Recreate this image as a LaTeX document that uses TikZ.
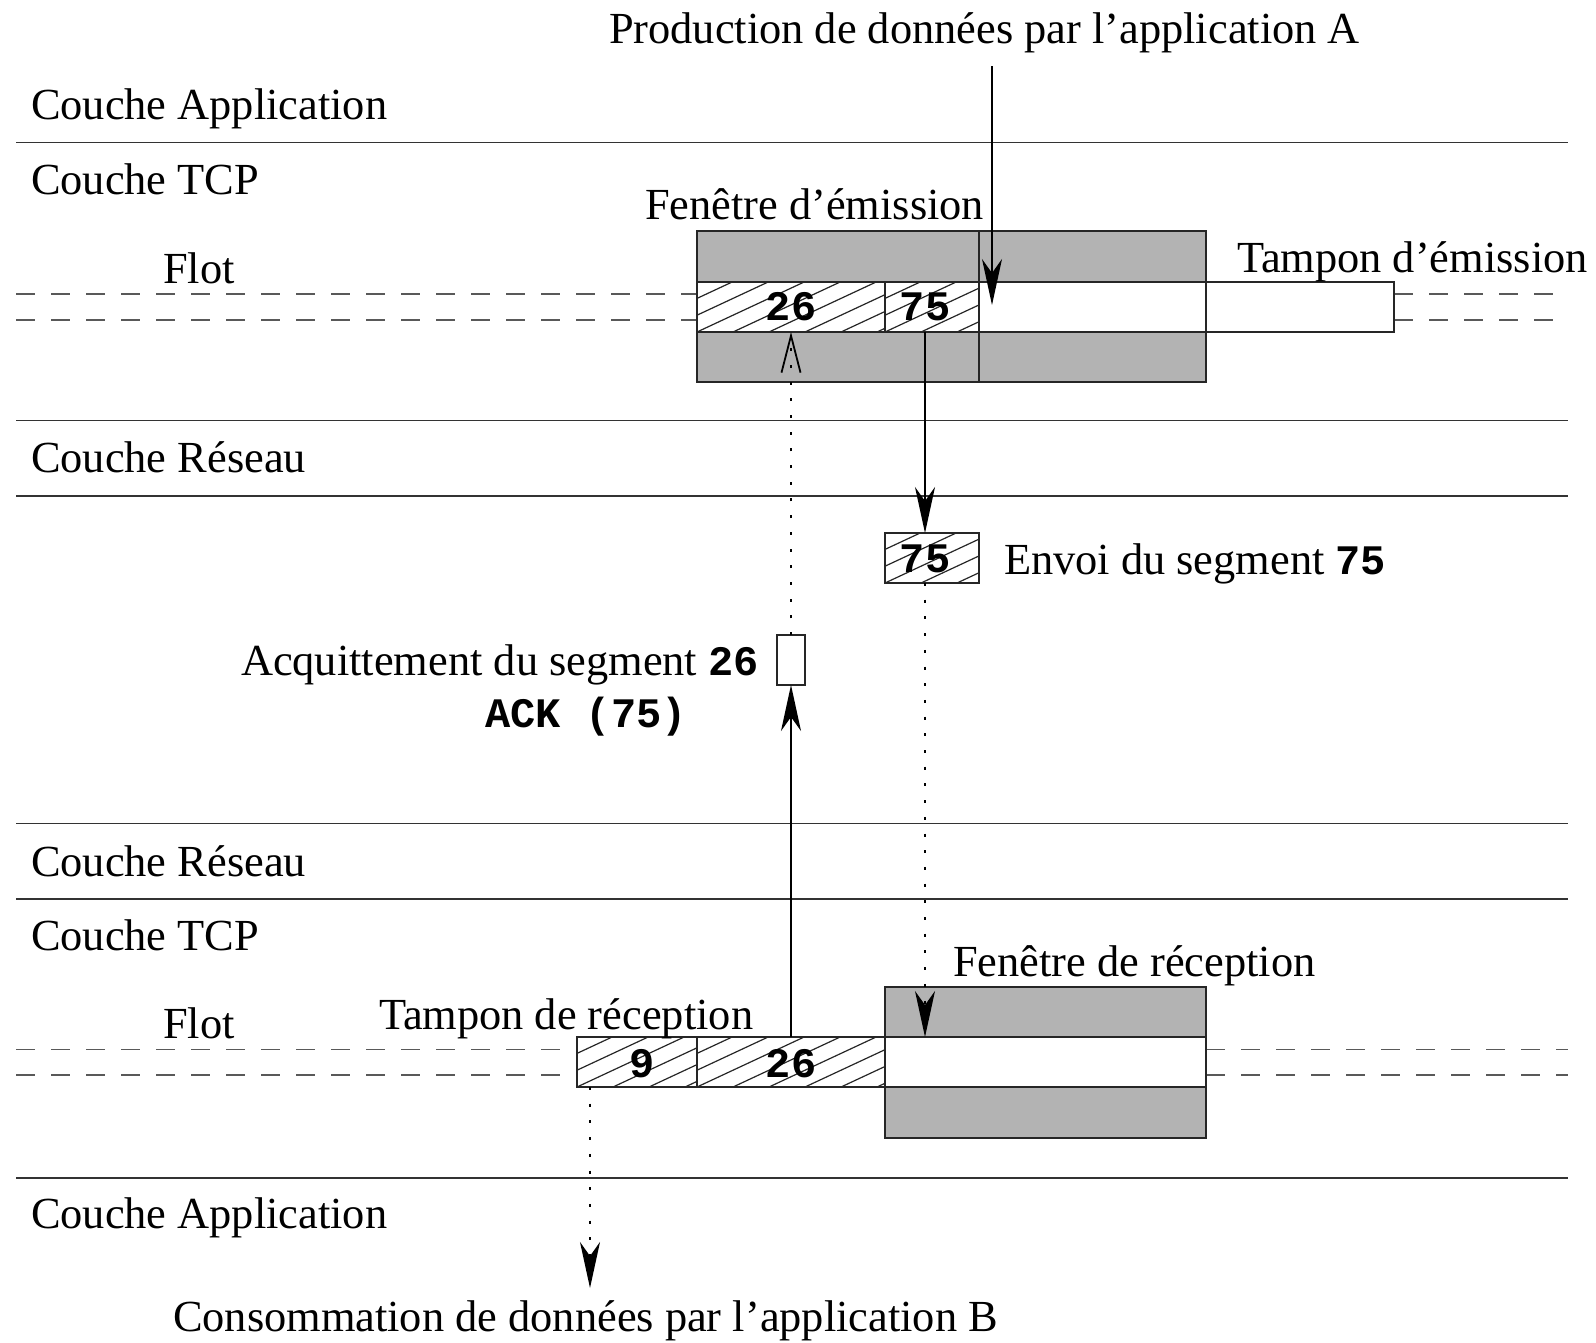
\documentclass[tikz,border=0pt]{standalone}
\usepackage{fontspec}
\setmainfont{Liberation Serif}
\newfontfamily\mymono{Liberation Mono}
\usetikzlibrary{arrows.meta}
\newcommand\txtsize{\fontsize{44.4pt}{50pt}\selectfont}
\newcommand\numsize{\fontsize{42pt}{50pt}\selectfont}
\definecolor{grayf}{HTML}{B3B3B3}
\tikzset{
  box/.style={draw=black!85, line width=1.8pt, rectangle, inner sep=0pt, outer sep=0pt, anchor=north west},
  hatch/.style={box, fill=white, path picture={
      \foreach \i in {-5,...,7} {
        \draw[line width=1.2pt, black!85] ([xshift=\i*36pt]path picture bounding box.south west) -- ++(120pt,56pt);
      }}},
  txt/.style={inner sep=0pt, outer sep=0pt, anchor=base west, font=\txtsize},
  num/.style={inner sep=0pt, outer sep=0pt, anchor=base, font=\numsize\mymono\bfseries},
  layer/.style={draw=black!80, line width=1.8pt},
  flow/.style={draw=black!65, line width=1.5pt, dash pattern=on 19pt off 16pt},
  dots/.style={line width=2pt, dash pattern=on 3pt off 13.7pt},
  arr/.style={-{Stealth[length=46pt,width=20pt,inset=14pt]}, line width=1.8pt},
  openarr/.style={-{Straight Barb[length=37pt,width=19pt,line width=1.8pt]}},
}
\begin{document}
\begin{tikzpicture}[x=1pt,y=-1pt]
\useasboundingbox[fill=white] (0,0) rectangle (1596,1342);

% layer lines
\draw[layer] (16,142.5) -- (1568,142.5);
\draw[layer] (16,420.4) -- (1568,420.4);
\draw[layer] (16,495.7) -- (1568,495.7);
\draw[layer] (16,823.5) -- (1568,823.5);
\draw[layer] (16,898.8) -- (1568,898.8);
\draw[layer] (16,1177.7) -- (1568,1177.7);

% flow dashed lines
\draw[flow] (16,294) -- (697,294);
\draw[flow] (16,320) -- (697,320);
\draw[flow] (1394,294) -- (1568,294);
\draw[flow] (1394,320) -- (1568,320);
\draw[flow] (16,1049.5) -- (577,1049.5);
\draw[flow] (16,1075) -- (577,1075);
\draw[flow] (1206,1049.5) -- (1568,1049.5);
\draw[flow] (1206,1075) -- (1568,1075);

% upper (sender) buffer
\node[box, fill=grayf, minimum width=509pt, minimum height=151pt] (gu) at (697,231) {};
\node[hatch, minimum width=188pt, minimum height=50pt] (c26u) at (697,282) {};
\node[hatch, minimum width=94pt, minimum height=50pt] (c75u) at (885,282) {};
\node[box, fill=white, minimum width=227pt, minimum height=50pt] (winu) at (979,282) {};
\node[box, fill=white, minimum width=188pt, minimum height=50pt] (tamp) at (1206,282) {};
\draw[draw=black!85, line width=1.8pt] (winu.west |- gu.north) -- (winu.west |- gu.south);

\node[num] (n26u) at (791,320) {26};
\node[num] (n75u) at (925,320) {75};

% segment in transit
\node[hatch, minimum width=94pt, minimum height=50pt] (s75) at (885,533) {};
\node[num] (ns75) at (925,572) {75};

% ack
\node[box, fill=white, minimum width=28pt, minimum height=50pt] (ack) at (777,635) {};

% lower (receiver) buffer
\node[box, fill=grayf, minimum width=321pt, minimum height=151pt] (gl) at (885,987) {};
\node[box, fill=white, minimum width=321pt, minimum height=50pt] (winl) at (885,1037) {};
\node[hatch, minimum width=120pt, minimum height=50pt] (c9) at (577,1037) {};
\node[hatch, minimum width=188pt, minimum height=50pt] (c26l) at (697,1037) {};
\node[num] (n9) at (642,1077) {9};
\node[num] (n26l) at (791,1077) {26};

% texts
\node[txt] (prod) at (609,43) {Production de données par l'application A};
\node[txt] (capp1) at (31,119.5) {Couche Application};
\node[txt] (ctcp1) at (31,194.5) {Couche TCP};
\node[txt] (fem) at (645,219.5) {Fenêtre d'émission};
\node[txt] (temi) at (1237,272.5) {Tampon d'émission};
\node[txt] (flot1) at (163,283) {Flot};
\node[txt] (cres1) at (31,472) {Couche Réseau};
\node[txt] (envoi) at (1004,574) {Envoi du segment {\numsize\mymono\bfseries 75}};
\node[txt] (acq) at (241,675) {Acquittement du segment {\numsize\mymono\bfseries 26}};
\node[txt, font=\numsize\mymono\bfseries] (ackl) at (485,727) {ACK (75)};
\node[txt] (cres2) at (31,876) {Couche Réseau};
\node[txt] (ctcp2) at (31,950.5) {Couche TCP};
\node[txt] (frec) at (953,976) {Fenêtre de réception};
\node[txt] (flot2) at (163,1038) {Flot};
\node[txt] (trec) at (379,1029) {Tampon de réception};
\node[txt] (capp2) at (31,1228.5) {Couche Application};
\node[txt] (cons) at (173,1331) {Consommation de données par l'application B};

% arrows
\coordinate (prodstart) at (992,66);
\coordinate (prodtip) at (992,305);
\draw[arr] (prodstart) -- (prodtip);

\draw[arr] (c75u.south -| n75u) -- (s75.north -| n75u);
\draw[dots, arr] (s75.south -| n75u) -- (winl.north -| n75u);

\draw[arr] (c26l.north) -- (ack.south);
\draw[dots, openarr] (ack.north) -- (c26u.south);

\coordinate (consstart) at (590,1087);
\coordinate (constip) at (590,1288);
\draw[dots, arr] (c9.south -| consstart) -- (constip);
\end{tikzpicture}
\end{document}
